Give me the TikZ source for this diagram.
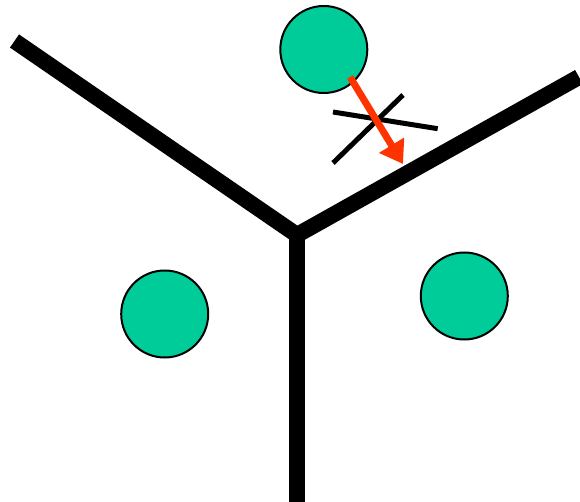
\documentclass[tikz,border=0pt]{standalone}
\usetikzlibrary{arrows.meta}
\definecolor{ballgreen}{HTML}{00CC99}
\definecolor{arrowred}{HTML}{FF3300}
\tikzset{
  ball/.style={circle, draw=black, line width=2pt, fill=ballgreen, minimum size=87pt, inner sep=0pt},
  wall/.style={line width=16pt, line join=miter},
  crossline/.style={line width=5pt},
  moveline/.style={arrowred, line width=7pt, -{Triangle[length=22pt,width=28pt]}}
}
\begin{document}
\begin{tikzpicture}[x=1pt,y=-1pt]
\useasboundingbox (0,0) rectangle (580,502);
% walls
\coordinate (wl) at (14.5,41);
\coordinate (wc) at (297,235);
\coordinate (wr) at (579,77);
\coordinate (wb) at (297,503);
\draw[wall] (wl) -- (wc) -- (wr);
\draw[wall] (wc) -- (wb);
% balls
\node[ball] (top) at (323.8,49.5) {};
\node[ball] (left) at (164.7,314) {};
\node[ball] (right) at (464.3,296) {};
% cross
\coordinate (c1a) at (333,112);
\coordinate (c1b) at (437.7,128.7);
\coordinate (c2a) at (333,163);
\coordinate (c2b) at (403,95);
\draw[crossline] (c1a) -- (c1b);
\draw[crossline] (c2a) -- (c2b);
% arrow
\coordinate (tip) at (403,164);
\draw[moveline] (350,77) -- (tip);
\end{tikzpicture}
\end{document}
